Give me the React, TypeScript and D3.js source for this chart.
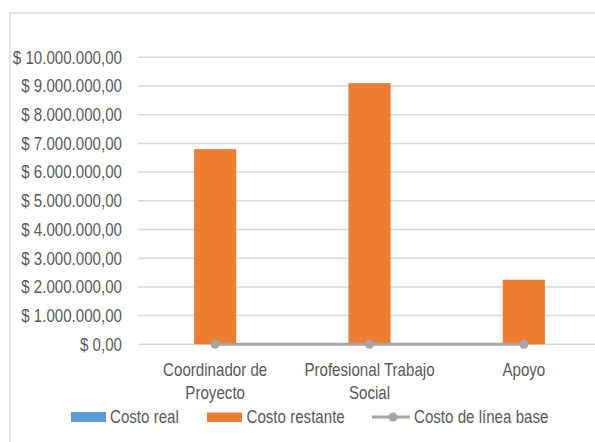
import React from "react";
import * as d3 from "d3";

const categories: string[][] = [["Coordinador de", "Proyecto"], ["Profesional Trabajo", "Social"], ["Apoyo"]];
const costoReal = [0, 0, 0];
const costoRestante = [6800000, 9100000, 2250000];
const costoLineaBase = [0, 0, 0];
const yTicks = [0, 1000000, 2000000, 3000000, 4000000, 5000000, 6000000, 7000000, 8000000, 9000000, 10000000];
const legendLabels = ["Costo real", "Costo restante", "Costo de línea base"];

const W = 595;
const H = 442;
const FONT = "'Liberation Sans', Arial, sans-serif";
const TEXT = "#595959";
const GRID = "#d9d9d9";
const ORANGE = "#ed7d31";
const BLUE = "#5b9bd5";
const GRAY = "#a5a5a5";
const SX = 0.84;

const locale = d3.formatLocale({ decimal: ",", thousands: ".", grouping: [3], currency: ["$ ", ""] });
const fmt = locale.format("$,.2f");

function T({ x, y, anchor = "start", children }: { x: number; y: number; anchor?: string; children: React.ReactNode }) {
  return (
    <g transform={`translate(${x},${y}) scale(${SX},1)`}>
      <text x={0} y={0} dy="0.35em" textAnchor={anchor} fontFamily={FONT} fontSize={18} fill={TEXT}>
        {children}
      </text>
    </g>
  );
}

export default function App() {
  const x = d3.scaleBand<number>().domain(categories.map((_, i) => i)).range([138, 601]).padding(0);
  const y = d3.scaleLinear().domain([0, 10000000]).range([344.3, 57.3]);
  const bw = x.bandwidth() * 0.273;
  const cx = (i: number) => (x(i) as number) + x.bandwidth() / 2;
  const line = d3.line<number>().x((_, i) => cx(i)).y((d) => y(d));

  return (
    <svg width={W} height={H} style={{ position: "fixed", left: 0, top: 0, display: "block", background: "#fff" }}>
      <rect x={10} y={13} width={W} height={H} fill="#fff" stroke={GRID} strokeWidth={1.3} />
      {yTicks.map((t) => (
        <g key={t}>
          <line x1={138} x2={601} y1={y(t)} y2={y(t)} stroke={GRID} strokeWidth={1.5} />
          <T x={122} y={y(t)} anchor="end">{fmt(t)}</T>
        </g>
      ))}
      {costoReal.map((v, i) => (
        <rect key={"r" + i} x={cx(i) - bw / 2} width={bw} y={y(v)} height={y(0) - y(v)} fill={BLUE} />
      ))}
      {costoRestante.map((v, i) => (
        <rect key={"b" + i} x={cx(i) - bw / 2} width={bw} y={y(v)} height={y(0) - y(v)} fill={ORANGE} />
      ))}
      <path d={line(costoLineaBase) || ""} fill="none" stroke={GRAY} strokeWidth={3} />
      {costoLineaBase.map((v, i) => (
        <circle key={"c" + i} cx={cx(i)} cy={y(v)} r={4.5} fill={GRAY} />
      ))}
      {categories.map((lines, i) =>
        lines.map((l, j) => (
          <T key={"t" + i + "-" + j} x={cx(i)} y={370 + j * 23} anchor="middle">{l}</T>
        ))
      )}
      <rect x={71} y={412} width={35} height={10} fill={BLUE} />
      <T x={110} y={417}>{legendLabels[0]}</T>
      <rect x={207} y={412.5} width={35} height={9.5} fill={ORANGE} />
      <T x={246.5} y={417}>{legendLabels[1]}</T>
      <line x1={372} x2={410} y1={417} y2={417} stroke={GRAY} strokeWidth={3} />
      <circle cx={393} cy={417} r={4.5} fill={GRAY} />
      <T x={414} y={417}>{legendLabels[2]}</T>
    </svg>
  );
}
